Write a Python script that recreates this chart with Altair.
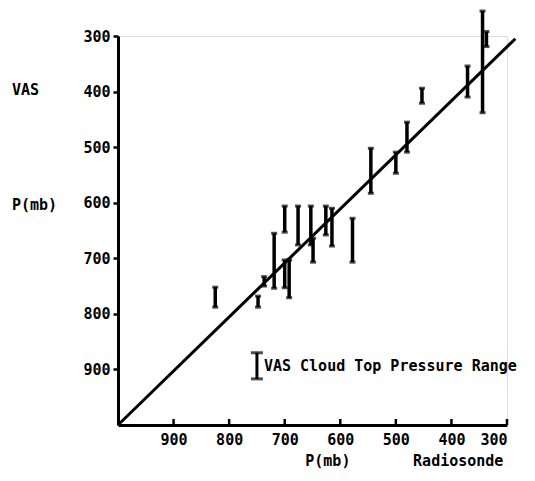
import altair as alt
import pandas as pd

# Radiosonde pressure (x) and VAS cloud-top pressure range (low/high), mb
rs_p = [825, 748, 737, 719, 700, 700, 692, 676, 653, 649, 626, 615, 578, 545, 500, 480, 453, 371, 344, 337]
vas_lo = [752, 768, 733, 655, 606, 703, 703, 606, 606, 664, 606, 610, 628, 502, 509, 455, 394, 354, 255, 292]
vas_hi = [788, 788, 750, 754, 653, 753, 771, 676, 676, 707, 658, 678, 707, 583, 547, 509, 421, 410, 438, 319]

# one-to-one reference line
line_x = [1000, 285]
line_y = [1000, 305]

y_ticks = [300, 400, 500, 600, 700, 800, 900]
x_ticks = [900, 800, 700, 600, 500, 400, 300]

# legend sample
leg_x = [750]
leg_lo = [870]
leg_hi = [917]
leg_text = ["VAS Cloud Top Pressure Range"]

FONT = "DejaVu Sans Mono"
W = H = 389

bars = pd.DataFrame({"x": rs_p, "lo": vas_lo, "hi": vas_hi})
line_df = pd.DataFrame({"x": line_x, "y": line_y})
xt = pd.DataFrame({"x": x_ticks})
leg = pd.DataFrame({"x": leg_x, "lo": leg_lo, "hi": leg_hi, "t": leg_text})

xs = alt.Scale(domain=[300, 1000], reverse=True, nice=False, zero=False)
ys = alt.Scale(domain=[300, 1000], reverse=True, nice=False, zero=False)

x_axis = alt.Axis(values=x_ticks, tickSize=0, labelPadding=7, grid=False,
                  labelFont=FONT, labelFontSize=15, labelFontWeight="bold",
                  labelColor="black", domainColor="black", domainWidth=3,
                  title="")
y_axis = alt.Axis(values=y_ticks, tickSize=5, tickWidth=2.5, tickColor="black",
                  labelPadding=3, grid=False,
                  labelFont=FONT, labelFontSize=15, labelFontWeight="bold",
                  labelColor="black", domainColor="black", domainWidth=3,
                  title="")

base_line = alt.Chart(line_df).mark_line(color="black", strokeWidth=3).encode(
    x=alt.X("x:Q", scale=xs, axis=x_axis),
    y=alt.Y("y:Q", scale=ys, axis=y_axis),
)

rules = alt.Chart(bars).mark_rule(color="black", strokeWidth=3.5).encode(
    x=alt.X("x:Q", scale=xs, axis=x_axis),
    y=alt.Y("lo:Q", scale=ys, axis=y_axis),
    y2="hi:Q",
)
cap_lo = alt.Chart(bars).mark_tick(color="black", orient="horizontal", size=6, thickness=3).encode(
    x=alt.X("x:Q", scale=xs, axis=x_axis),
    y=alt.Y("lo:Q", scale=ys, axis=y_axis),
)
cap_hi = alt.Chart(bars).mark_tick(color="black", orient="horizontal", size=6, thickness=3).encode(
    x=alt.X("x:Q", scale=xs, axis=x_axis),
    y=alt.Y("hi:Q", scale=ys, axis=y_axis),
)

xticks = alt.Chart(xt).mark_rule(color="black", strokeWidth=2.5).encode(
    x=alt.X("x:Q", scale=xs, axis=x_axis),
    y=alt.datum(1000, scale=ys),
    y2=alt.value(H - 6),
)

leg_rule = alt.Chart(leg).mark_rule(color="black", strokeWidth=3).encode(
    x=alt.X("x:Q", scale=xs, axis=x_axis),
    y=alt.Y("lo:Q", scale=ys, axis=y_axis),
    y2="hi:Q",
)
leg_cap1 = alt.Chart(leg).mark_tick(color="black", orient="horizontal", size=12, thickness=3).encode(
    x=alt.X("x:Q", scale=xs, axis=x_axis),
    y=alt.Y("lo:Q", scale=ys, axis=y_axis),
)
leg_cap2 = alt.Chart(leg).mark_tick(color="black", orient="horizontal", size=12, thickness=3).encode(
    x=alt.X("x:Q", scale=xs, axis=x_axis),
    y=alt.Y("hi:Q", scale=ys, axis=y_axis),
)
leg_txt = alt.Chart(leg).mark_text(font=FONT, fontSize=15, fontWeight="bold", align="left",
                                    baseline="middle", color="black", dx=7).encode(
    x=alt.X("x:Q", scale=xs, axis=x_axis),
    y=alt.datum(894, scale=ys),
    text="t:N",
)

def label(txt, x, y):
    return alt.Chart(pd.DataFrame({"t": [txt]})).mark_text(
        font=FONT, fontSize=15, fontWeight="bold", align="left", baseline="middle", color="black"
    ).encode(x=x, y=y, text="t:N")

t_vas = label("VAS", alt.value(-106), alt.value(54))
t_pmb_y = label("P(mb)", alt.value(-106), alt.value(169))
t_pmb_x = label("P(mb)", alt.datum(663, scale=xs), alt.value(425))
t_rs = label("Radiosonde", alt.datum(469, scale=xs), alt.value(425))

chart = alt.layer(
    base_line, rules, cap_lo, cap_hi, xticks,
    leg_rule, leg_cap1, leg_cap2, leg_txt,
    t_vas, t_pmb_y, t_pmb_x, t_rs,
).properties(
    width=W, height=H,
    autosize=alt.AutoSizeParams(type="none"),
    padding={"left": 110, "top": 28, "right": 20, "bottom": 48},
).configure_view(stroke=None).configure(background="white")

chart.save("out.html", embed_options={"renderer": "svg", "actions": False})
